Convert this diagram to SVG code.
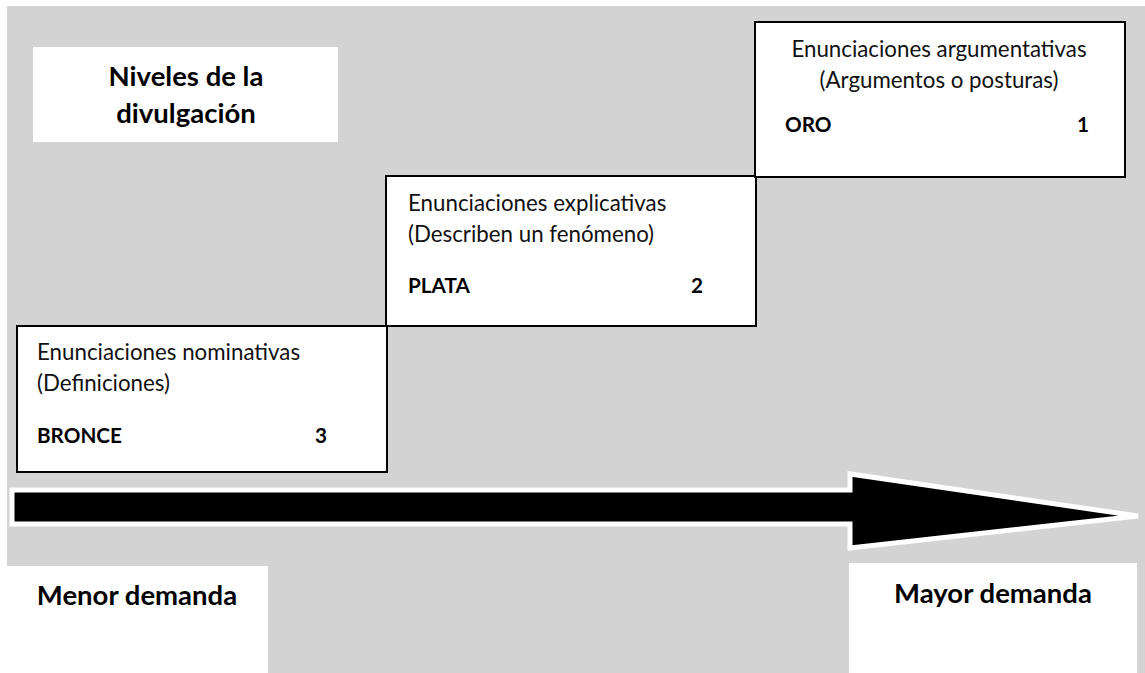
<svg xmlns="http://www.w3.org/2000/svg" width="1145" height="673" viewBox="0 0 1145 673">
  <style>
    .bg { fill: #d3d3d3; }
    .plain { fill: #ffffff; }
    .box { fill: #ffffff; stroke: #000000; stroke-width: 2; }
    .txt { font-family: Lato, "Liberation Sans", sans-serif; font-size: 22.3px; fill: #111111; }
    .lvl { font-family: Lato, "Liberation Sans", sans-serif; font-size: 20.7px; font-weight: bold; fill: #000000; }
    .head { font-family: Lato, "Liberation Sans", sans-serif; font-size: 27.5px; font-weight: bold; fill: #000000; }
  </style>

  <!-- page background -->
  <rect class="plain" x="0" y="0" width="1145" height="673"/>
  <rect class="bg" x="7" y="6" width="1138" height="667"/>

  <!-- title -->
  <g id="title">
    <rect class="plain" x="33" y="47" width="305" height="95"/>
    <text class="head" x="186" y="86" text-anchor="middle">Niveles de la</text>
    <text class="head" x="186" y="123" text-anchor="middle">divulgación</text>
  </g>

  <!-- level 3 -->
  <g id="bronce">
    <rect class="box" x="17" y="326" width="370" height="146"/>
    <text class="txt" x="37" y="360">Enunciaciones nominativas</text>
    <text class="txt" x="37" y="391">(Definiciones)</text>
    <text class="lvl" x="37" y="443">BRONCE</text>
    <text class="lvl" x="315" y="443">3</text>
  </g>

  <!-- level 2 -->
  <g id="plata">
    <rect class="box" x="386" y="176" width="370" height="150"/>
    <text class="txt" x="408" y="211">Enunciaciones explicativas</text>
    <text class="txt" x="408" y="242">(Describen un fenómeno)</text>
    <text class="lvl" x="408" y="293">PLATA</text>
    <text class="lvl" x="691" y="293">2</text>
  </g>

  <!-- level 1 -->
  <g id="oro">
    <rect class="box" x="755" y="22" width="370" height="155"/>
    <text class="txt" x="939" y="57" text-anchor="middle">Enunciaciones argumentativas</text>
    <text class="txt" x="939" y="88" text-anchor="middle">(Argumentos o posturas)</text>
    <text class="lvl" x="785" y="132">ORO</text>
    <text class="lvl" x="1077" y="132">1</text>
  </g>

  <!-- demand axis -->
  <g id="connectors">
    <polygon points="12,490 850,490 850,474 1138,516 850,548 850,524 12,524"
             fill="#000000" stroke="#ffffff" stroke-width="5" stroke-linejoin="miter"/>
  </g>

  <g id="menor">
    <rect class="plain" x="7" y="566" width="261" height="107"/>
    <text class="head" x="137" y="605" text-anchor="middle">Menor demanda</text>
  </g>

  <g id="mayor">
    <rect class="plain" x="849" y="563" width="288" height="110"/>
    <text class="head" x="993" y="603" text-anchor="middle">Mayor demanda</text>
  </g>
</svg>
